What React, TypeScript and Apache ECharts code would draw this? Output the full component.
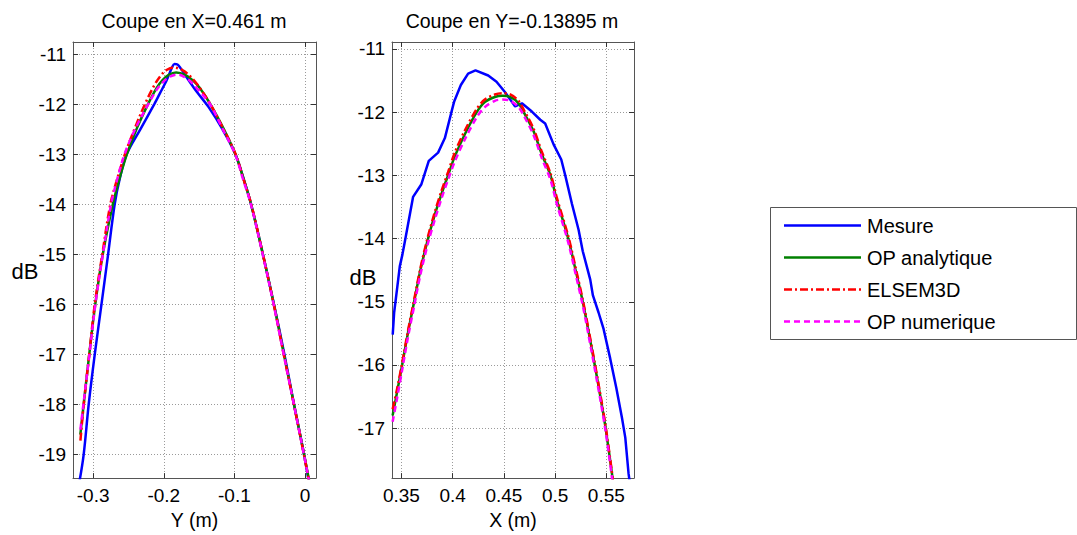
import React, { useEffect, useRef } from "react";
import * as echarts from "echarts";

const FONT = "'Liberation Sans', Arial, Helvetica, sans-serif";

const leftTitle = "Coupe en X=0.461 m";
const rightTitle = "Coupe en Y=-0.13895 m";
const leftXName = "Y (m)";
const rightXName = "X (m)";
const yName = "dB";
const seriesNames = ["Mesure", "OP analytique", "ELSEM3D", "OP numerique"];
const seriesColors = ["#0000ff", "#008000", "#ff0000", "#ff00ff"];

const leftXTicks = [-0.3, -0.2, -0.1, 0];
const leftYTicks = [-19, -18, -17, -16, -15, -14, -13, -12, -11];
const rightXTicks = [0.35, 0.4, 0.45, 0.5, 0.55];
const rightYTicks = [-17, -16, -15, -14, -13, -12, -11];

// ---- Left plot: cut at X = 0.461 m (abscissa Y in m, values in dB)
const mesureLeftPos = [-0.3195, -0.3134, -0.3063, -0.2977, -0.2882, -0.2788, -0.2695, -0.2625, -0.2525, -0.233, -0.2134, -0.2053, -0.1982, -0.1934, -0.1886, -0.1849, -0.1806, -0.1758, -0.1711, -0.165, -0.153, -0.1365, -0.117, -0.0986, -0.0875, -0.0764, -0.0597, -0.0441, -0.0292, -0.0156, -0.0014, 0.006];
const mesureLeftDb = [-19.55, -19.0, -18.0, -17.0, -16.0, -15.0, -14.0, -13.5, -13.0, -12.5, -12.0, -11.78, -11.59, -11.44, -11.28, -11.2, -11.21, -11.29, -11.39, -11.52, -11.76, -12.06, -12.5, -13.0, -13.47, -14.0, -15.0, -16.0, -17.0, -18.0, -19.0, -19.6];

const analytiqueLeftPos = [-0.3181, -0.3134, -0.3055, -0.297, -0.2863, -0.2721, -0.2623, -0.2522, -0.2377, -0.2223, -0.2098, -0.2017, -0.1935, -0.1825, -0.1691, -0.1593, -0.1495, -0.1341, -0.1161, -0.0986, -0.0875, -0.0764, -0.0597, -0.0441, -0.0299, -0.0156, -0.0014, 0.009];
const analytiqueLeftDb = [-18.6, -18.0, -17.0, -16.0, -15.0, -14.0, -13.47, -13.0, -12.47, -12.0, -11.67, -11.52, -11.42, -11.37, -11.42, -11.52, -11.67, -12.0, -12.47, -13.0, -13.47, -14.0, -15.0, -16.0, -17.0, -18.0, -19.0, -19.75];

const elsemLeftPos = [-0.318, -0.3133, -0.3055, -0.2977, -0.287, -0.2756, -0.266, -0.255, -0.2415, -0.2266, -0.2132, -0.2037, -0.1961, -0.1863, -0.1736, -0.1643, -0.1519, -0.1342, -0.1155, -0.0983, -0.0872, -0.0762, -0.0597, -0.0443, -0.0302, -0.0158, -0.0016, 0.0092];
const elsemLeftDb = [-18.72, -18.0, -17.0, -16.0, -15.0, -14.0, -13.5, -13.0, -12.5, -12.0, -11.62, -11.42, -11.32, -11.27, -11.32, -11.42, -11.62, -12.0, -12.5, -13.0, -13.5, -14.0, -15.0, -16.0, -17.0, -18.0, -19.0, -19.8];

const numeriqueLeftPos = [-0.318, -0.3138, -0.3052, -0.2968, -0.2862, -0.2745, -0.2659, -0.2555, -0.2405, -0.2219, -0.2099, -0.2011, -0.1924, -0.181, -0.1705, -0.1612, -0.1515, -0.1345, -0.1165, -0.099, -0.0878, -0.0767, -0.06, -0.0445, -0.0302, -0.0158, -0.0016, 0.0095];
const numeriqueLeftDb = [-18.5, -18.0, -17.0, -16.0, -15.0, -14.0, -13.5, -13.0, -12.5, -12.0, -11.71, -11.56, -11.46, -11.41, -11.46, -11.56, -11.71, -12.0, -12.5, -13.0, -13.5, -14.0, -15.0, -16.0, -17.0, -18.0, -19.0, -19.8];

// ---- Right plot: cut at Y = -0.13895 m (abscissa X in m, values in dB)
const mesureRightPos = [0.3415, 0.3429, 0.3461, 0.3484, 0.351, 0.3539, 0.3614, 0.3695, 0.3767, 0.3858, 0.3924, 0.3988, 0.4015, 0.408, 0.4151, 0.4223, 0.4347, 0.4428, 0.451, 0.461, 0.4676, 0.4773, 0.4855, 0.4903, 0.4985, 0.506, 0.5099, 0.5164, 0.5229, 0.527, 0.5343, 0.5369, 0.5424, 0.5473, 0.5538, 0.5597, 0.5652, 0.5685, 0.5717, 0.5728];
const mesureRightDb = [-15.52, -15.17, -14.75, -14.44, -14.25, -14.0, -13.34, -13.14, -12.77, -12.64, -12.41, -12.0, -11.83, -11.57, -11.39, -11.34, -11.42, -11.52, -11.68, -11.91, -11.86, -11.99, -12.12, -12.18, -12.51, -12.75, -13.0, -13.45, -13.86, -14.2, -14.65, -14.9, -15.17, -15.43, -15.9, -16.36, -16.83, -17.15, -17.72, -17.85];

const analytiqueRightPos = [0.3414, 0.3455, 0.3507, 0.3565, 0.3624, 0.3685, 0.376, 0.3826, 0.389, 0.3955, 0.4021, 0.4119, 0.4235, 0.4314, 0.4412, 0.4485, 0.4561, 0.4643, 0.4693, 0.4789, 0.4871, 0.4955, 0.5018, 0.5128, 0.52, 0.527, 0.533, 0.5387, 0.5447, 0.5493, 0.5555, 0.5565];
const analytiqueRightDb = [-16.8, -16.45, -16.0, -15.48, -15.0, -14.5, -14.0, -13.62, -13.3, -13.0, -12.7, -12.35, -12.0, -11.84, -11.76, -11.74, -11.76, -11.86, -12.0, -12.3, -12.67, -13.0, -13.4, -14.0, -14.5, -15.0, -15.5, -16.0, -16.55, -17.0, -17.72, -17.85];

const elsemRightPos = [0.3414, 0.3455, 0.3507, 0.3565, 0.3624, 0.3685, 0.376, 0.3826, 0.389, 0.3955, 0.4021, 0.4119, 0.4235, 0.4314, 0.4412, 0.4485, 0.4561, 0.4643, 0.4693, 0.4789, 0.4871, 0.4955, 0.5018, 0.5128, 0.52, 0.527, 0.533, 0.5387, 0.5447, 0.5493, 0.5555, 0.5568];
const elsemRightDb = [-16.7, -16.4, -15.97, -15.45, -14.97, -14.47, -13.96, -13.58, -13.25, -12.95, -12.64, -12.29, -11.95, -11.8, -11.72, -11.7, -11.72, -11.82, -11.96, -12.26, -12.63, -12.97, -13.36, -13.96, -14.46, -14.97, -15.47, -15.97, -16.52, -16.97, -17.7, -17.88];

const numeriqueRightPos = [0.3414, 0.3455, 0.3507, 0.3565, 0.3624, 0.3685, 0.376, 0.3826, 0.389, 0.3955, 0.4021, 0.4119, 0.4235, 0.4314, 0.4412, 0.4485, 0.4561, 0.4643, 0.4693, 0.4789, 0.4871, 0.4955, 0.5018, 0.5128, 0.52, 0.527, 0.533, 0.5387, 0.5447, 0.5493, 0.5555, 0.5565];
const numeriqueRightDb = [-16.9, -16.55, -16.08, -15.55, -15.07, -14.57, -14.07, -13.7, -13.37, -13.07, -12.78, -12.43, -12.08, -11.92, -11.82, -11.8, -11.82, -11.92, -12.05, -12.36, -12.73, -13.07, -13.46, -14.06, -14.56, -15.06, -15.56, -16.06, -16.6, -17.05, -17.78, -17.9];

const pairs = (xs: number[], ys: number[]) => xs.map((x, i) => [x, ys[i]]);
const fmt = (v: number) => String(Math.round(v * 1000) / 1000);

const lineTypes: any[] = ["solid", "solid", [8, 3, 2, 3], [6, 4]];

function buildOption() {
  const axisLineStyle = { color: "#555", width: 1 };
  const splitLine = { show: true, lineStyle: { color: "#9a9a9a", type: [1, 2], width: 1 } };
  const tickStyle = { show: true, inside: true, length: 5, lineStyle: { color: "#333" } };
  const labelStyle = { color: "#000", fontSize: 19, fontFamily: FONT };

  const grids = [
    { left: 73, top: 42, width: 243, height: 442, show: false },
    { left: 392, top: 42, width: 242, height: 442, show: false },
  ];

  const mkX = (grid: number, min: number, max: number, ticks: number[], name: string) => [
    {
      type: "value", gridIndex: grid, min, max, position: "bottom",
      axisLine: { show: true, onZero: false, lineStyle: axisLineStyle },
      axisTick: { ...tickStyle, customValues: ticks },
      axisLabel: { ...labelStyle, margin: 8, customValues: ticks, formatter: fmt },
      splitLine,
      name, nameLocation: "middle", nameGap: 27,
      nameTextStyle: { color: "#000", fontSize: 19.5, fontFamily: FONT },
    },
    {
      type: "value", gridIndex: grid, min, max, position: "top",
      axisLine: { show: true, onZero: false, lineStyle: axisLineStyle },
      axisTick: { ...tickStyle, customValues: ticks },
      axisLabel: { show: false },
      splitLine: { show: false },
    },
  ];
  const mkY = (grid: number, min: number, max: number, ticks: number[]) => [
    {
      type: "value", gridIndex: grid, min, max, position: "left",
      axisLine: { show: true, onZero: false, lineStyle: axisLineStyle },
      axisTick: { ...tickStyle, customValues: ticks },
      axisLabel: { ...labelStyle, margin: 7, customValues: ticks, formatter: fmt },
      splitLine,
    },
    {
      type: "value", gridIndex: grid, min, max, position: "right",
      axisLine: { show: true, onZero: false, lineStyle: axisLineStyle },
      axisTick: { ...tickStyle, customValues: ticks },
      axisLabel: { show: false },
      splitLine: { show: false },
    },
  ];

  const xAxis = [
    ...mkX(0, -0.3285, 0.0155, leftXTicks, leftXName),
    ...mkX(1, 0.3408, 0.577, rightXTicks, rightXName),
  ];
  const yAxis = [
    ...mkY(0, -19.47, -10.76, leftYTicks),
    ...mkY(1, -17.79, -10.89, rightYTicks),
  ];

  const leftData = [
    pairs(mesureLeftPos, mesureLeftDb),
    pairs(analytiqueLeftPos, analytiqueLeftDb),
    pairs(elsemLeftPos, elsemLeftDb),
    pairs(numeriqueLeftPos, numeriqueLeftDb),
  ];
  const rightData = [
    pairs(mesureRightPos, mesureRightDb),
    pairs(analytiqueRightPos, analytiqueRightDb),
    pairs(elsemRightPos, elsemRightDb),
    pairs(numeriqueRightPos, numeriqueRightDb),
  ];

  const series: any[] = [];
  leftData.forEach((d, i) => {
    series.push({
      name: seriesNames[i], type: "line", xAxisIndex: 0, yAxisIndex: 0,
      data: d, showSymbol: false, symbol: "none", smooth: 0.35, clip: true,
      lineStyle: { color: seriesColors[i], width: 2.5, type: lineTypes[i] },
      z: 3 + i,
    });
  });
  rightData.forEach((d, i) => {
    series.push({
      name: seriesNames[i], type: "line", xAxisIndex: 2, yAxisIndex: 2,
      data: d, showSymbol: false, symbol: "none", smooth: i === 0 ? false : 0.3, clip: true,
      lineStyle: { color: seriesColors[i], width: 2.5, type: lineTypes[i] },
      z: 3 + i,
    });
  });

  const legendRows = [225.5, 257.5, 289.5, 321.5];
  const graphic: any[] = [
    { type: "text", x: 194, y: 21, style: { text: leftTitle, fill: "#000", font: `19.5px ${FONT}`, align: "center", verticalAlign: "middle" } },
    { type: "text", x: 512, y: 21, style: { text: rightTitle, fill: "#000", font: `19.5px ${FONT}`, align: "center", verticalAlign: "middle" } },
    { type: "text", x: 25, y: 271, style: { text: yName, fill: "#000", font: `22px ${FONT}`, align: "center", verticalAlign: "middle" } },
    { type: "text", x: 363, y: 277, style: { text: yName, fill: "#000", font: `22px ${FONT}`, align: "center", verticalAlign: "middle" } },
    { type: "rect", shape: { x: 770.5, y: 207.5, width: 306, height: 132 }, style: { fill: "#fff", stroke: "#555", lineWidth: 1 }, z: 10 },
  ];
  seriesNames.forEach((n, i) => {
    graphic.push({
      type: "line", shape: { x1: 784, y1: legendRows[i], x2: 861, y2: legendRows[i] },
      style: { stroke: seriesColors[i], lineWidth: 2.5, lineDash: Array.isArray(lineTypes[i]) ? lineTypes[i] : null },
      z: 11,
    });
    graphic.push({
      type: "text", x: 867, y: legendRows[i],
      style: { text: n, fill: "#000", font: `20px ${FONT}`, align: "left", verticalAlign: "middle" },
      z: 11,
    });
  });

  return {
    animation: false,
    backgroundColor: "#fff",
    grid: grids,
    xAxis,
    yAxis,
    series,
    graphic,
  };
}

export default function App() {
  const ref = useRef<HTMLDivElement>(null);
  useEffect(() => {
    if (!ref.current) return;
    const chart = echarts.init(ref.current, null, { renderer: "svg" });
    chart.setOption(buildOption() as any);
    return () => chart.dispose();
  }, []);
  return (
    <div
      ref={ref}
      style={{ position: "fixed", left: 0, top: 0, width: 1077, height: 535, background: "#fff" }}
    />
  );
}
